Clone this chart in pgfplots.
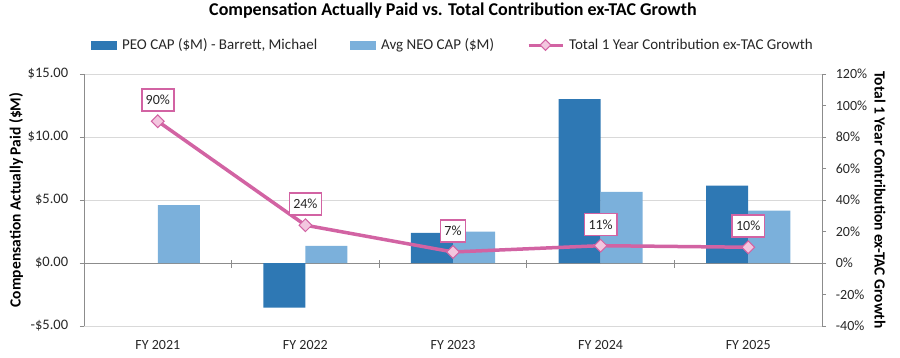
\documentclass[border=0pt]{standalone}
\usepackage{pgfplots}
\pgfplotsset{compat=1.18}
\usepackage{fontspec}
\setmainfont{Carlito}
\definecolor{peo}{HTML}{2E78B4}
\definecolor{neo}{HTML}{7BB0DB}
\definecolor{pinkline}{HTML}{D263A3}
\definecolor{pinkfill}{HTML}{F3C6DF}
\definecolor{gridc}{HTML}{D9D9D9}
\definecolor{axisc}{HTML}{8C8C8C}
\definecolor{txt}{HTML}{262626}
\begin{document}
\fontsize{14pt}{16pt}\selectfont
\begin{tikzpicture}
\useasboundingbox (-84pt,-31pt) rectangle (816pt,326pt);
\begin{axis}[
  at={(0,0)}, anchor=south west,
  scale only axis, width=738pt, height=252pt,
  xmin=-0.5, xmax=4.5, ymin=-5, ymax=15,
  axis x line*=bottom, axis y line*=left,
  x axis line style={draw=none},
  y axis line style={axisc, line width=0.8pt},
  xtick={0,1,2,3,4},
  xticklabels={FY 2021,FY 2022,FY 2023,FY 2024,FY 2025},
  major x tick style={draw=none},
  xticklabel style={text=txt, font=\fontsize{14pt}{16pt}\selectfont, yshift=-6pt},
  ytick={-5,0,5,10,15},
  yticklabels={-\$5.00,\$0.00,\$5.00,\$10.00,\$15.00},
  yticklabel style={text=txt, font=\fontsize{14.5pt}{16pt}\selectfont, xshift=-7pt},
  major y tick style={axisc, line width=0.8pt},
  tick align=outside, major tick length=4pt,
  ymajorgrids, grid style={gridc, line width=1pt},
  extra y ticks={0}, extra y tick labels={},
  extra y tick style={grid style={axisc, line width=1pt}},
  ylabel={Compensation Actually Paid (\$M)},
  ylabel style={at={(axis description cs:-0.0921,0.5)}, rotate=0, anchor=center, font=\bfseries\fontsize{15.5pt}{17pt}\selectfont, text=black},
  title={Compensation Actually Paid vs. Total Contribution ex-TAC Growth},
  title style={at={(axis description cs:0.5,1)}, anchor=center, yshift=57pt, font=\bfseries\fontsize{18pt}{20pt}\selectfont},
  legend style={at={(axis description cs:0.5,1)}, anchor=center, yshift=29pt, draw=none, fill=none,
    font=\fontsize{15pt}{17pt}\selectfont, text=txt,
    /tikz/every odd column/.style={column sep=3pt},
    /tikz/every even column/.style={column sep=31pt}},
  legend columns=3,
  legend cell align=left,
]
\pgfplotsinvokeforeach{0.5,1.5,2.5,3.5}{
  \draw[axisc, line width=0.8pt] ([yshift=3pt]axis cs:#1,0) -- ([yshift=-5pt]axis cs:#1,0);
}
\addplot[ybar, bar width=0.285, bar shift=-0.1425, fill=peo, draw=none,
  legend image code/.code={\fill[peo] (0pt,-4.5pt) rectangle (26pt,4.5pt);}]
  coordinates {(1,-3.55) (2,2.4) (3,13.0) (4,6.15)};
\addlegendentry{PEO CAP (\$M) - Barrett, Michael}
\addplot[ybar, bar width=0.285, bar shift=0.1425, fill=neo, draw=none,
  legend image code/.code={\fill[neo] (0pt,-4.5pt) rectangle (26pt,4.5pt);}]
  coordinates {(0,4.6) (1,1.35) (2,2.5) (3,5.65) (4,4.15)};
\addlegendentry{Avg NEO CAP (\$M)}
\addlegendimage{legend image code/.code={
  \draw[pinkline, line width=3pt] (0pt,0pt) -- (34pt,0pt);
  \fill[pinkfill, draw=pinkline, line width=1pt, rotate around={45:(17pt,0pt)}] (13.2pt,-3.8pt) rectangle (20.8pt,3.8pt);}}
\addlegendentry{Total 1 Year Contribution ex-TAC Growth}
\end{axis}
\begin{axis}[
  at={(0,0)}, anchor=south west,
  scale only axis, width=738pt, height=252pt,
  xmin=-0.5, xmax=4.5, ymin=-40, ymax=120,
  axis x line=none, axis y line*=right,
  y axis line style={axisc, line width=0.8pt},
  ytick={-40,-20,0,20,40,60,80,100,120},
  yticklabels={-40\%,-20\%,0\%,20\%,40\%,60\%,80\%,100\%,120\%},
  yticklabel style={text=txt, font=\fontsize{14pt}{16pt}\selectfont, xshift=5pt},
  major y tick style={axisc, line width=0.8pt},
  tick align=outside, major tick length=4pt,
  ylabel={Total 1 Year Contribution ex-TAC Growth},
  ylabel style={at={(axis description cs:1.0786,0.5)}, rotate=180, anchor=center, font=\bfseries\fontsize{15.5pt}{17pt}\selectfont, text=black},
  clip=false,
]
\addplot[pinkline, line width=3.5pt, mark=square*,
  mark options={rotate=45, fill=pinkfill, draw=pinkline, line width=1pt, mark size=4.5pt},
  point meta=explicit,
  nodes near coords={\pgfmathprintnumber[assume math mode=true]{\pgfplotspointmeta}\%},
  nodes near coords style={draw=pinkline, fill=white, line width=1.6pt, inner xsep=4pt, inner ysep=0pt,
    minimum height=22pt, text=txt, anchor=center, yshift=21pt, font=\fontsize{14pt}{16pt}\selectfont}]
  coordinates {(0,90) [90] (1,24) [24] (2,7) [7] (3,11) [11] (4,10) [10]};
\end{axis}
\end{tikzpicture}
\end{document}
